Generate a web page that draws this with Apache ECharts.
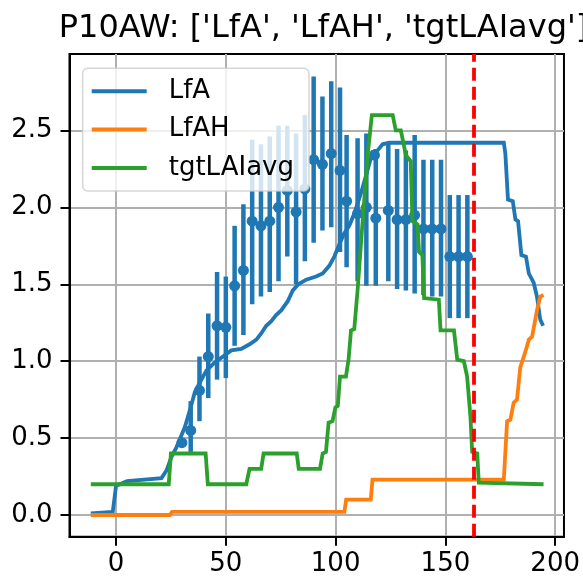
<!DOCTYPE html>
<html>
<head>
<meta charset="utf-8">
<script src="https://cdn.jsdelivr.net/npm/echarts@6/dist/echarts.min.js"></script>
<style>
html,body{margin:0;padding:0;background:#fff;}
#chart{width:583px;height:585px;}
</style>
</head>
<body>
<div id="chart"></div>
<script>
// ---- data ----
const titleText = "P10AW: ['LfA', 'LfAH', 'tgtLAIavg']";
const seriesNames = ['LfA', 'LfAH', 'tgtLAIavg'];
const xTicks = [0, 50, 100, 150, 200];
const yTicks = [0.0, 0.5, 1.0, 1.5, 2.0, 2.5];
const vLineX = 163;

const lfaX = [-11.5, -1.5, 0, 5, 20.7, 23, 25.3, 27.5, 31.3, 33.6, 35.9, 38.1, 41.2, 44.9, 48.7, 52.5, 57, 60.8, 63.9, 66.1, 68.4, 70.7, 72.9, 75.2, 78.2, 80.5, 83, 86.6, 91.1, 94.1, 97.1, 99.4, 101.7, 103.9, 106.2, 108.5, 111.5, 114.5, 116.8, 119.1, 121.4, 124.4, 176.6, 177.3, 178.5, 180.7, 181.9, 183.1, 184.6, 186.7, 188, 190.2, 191.7, 193.2, 194.5];
const lfaY = [0.01, 0.02, 0.19, 0.22, 0.24, 0.29, 0.38, 0.44, 0.57, 0.68, 0.80, 0.86, 0.94, 0.99, 1.03, 1.07, 1.08, 1.11, 1.14, 1.18, 1.23, 1.26, 1.30, 1.33, 1.39, 1.46, 1.50, 1.53, 1.55, 1.57, 1.62, 1.68, 1.76, 1.83, 1.88, 1.96, 2.09, 2.24, 2.36, 2.37, 2.41, 2.42, 2.42, 2.35, 2.05, 2.04, 1.92, 1.91, 1.69, 1.68, 1.57, 1.51, 1.42, 1.27, 1.23];

const lfahX = [-11.5, 24.5, 25.5, 104, 104.8, 116, 116.8, 176.6, 178.1, 179.6, 181.1, 182.6, 184.1, 186.4, 188, 189.5, 191.7, 193.2, 194.7];
const lfahY = [0.0, 0.0, 0.02, 0.02, 0.10, 0.10, 0.23, 0.23, 0.61, 0.62, 0.73, 0.75, 0.96, 1.06, 1.14, 1.16, 1.33, 1.42, 1.43];

const tgtX = [-11.5, 24, 25, 40.8, 41.8, 59.3, 60.8, 66.1, 67.2, 82.3, 83.2, 92.9, 94.1, 95.6, 96.8, 98.6, 99.9, 101, 102, 104.7, 105.9, 107, 108.5, 110, 112.3, 114.6, 116.5, 126, 127.4, 129.7, 132, 134.2, 135, 137.3, 138, 139.5, 140.3, 147, 147.8, 153.9, 155.4, 158.4, 159.9, 161.4, 162.2, 164.5, 165.2, 194.7];
const tgtY = [0.2, 0.2, 0.4, 0.4, 0.2, 0.2, 0.3, 0.3, 0.4, 0.4, 0.3, 0.3, 0.4, 0.41, 0.6, 0.61, 0.7, 0.71, 0.9, 0.9, 1.01, 1.2, 1.21, 1.46, 1.91, 2.34, 2.6, 2.6, 2.5, 2.5, 2.34, 2.3, 1.91, 1.89, 1.71, 1.69, 1.41, 1.40, 1.2, 1.2, 1.01, 1.0, 0.9, 0.64, 0.41, 0.4, 0.21, 0.2];

const obsX = [30, 34, 38, 42, 46, 50, 54, 58, 62, 66, 70, 74, 78, 82, 86, 90, 94, 98, 102, 105, 110, 114, 117.7, 118.3, 124, 128, 132, 136, 140, 144, 148, 152, 156, 160];
const obsY = [0.47, 0.55, 0.81, 1.03, 1.23, 1.22, 1.49, 1.59, 1.91, 1.88, 1.91, 2.00, 2.11, 1.97, 2.12, 2.31, 2.28, 2.35, 2.24, 2.04, 1.96, 2.00, 2.34, 1.93, 1.98, 1.92, 1.92, 1.95, 1.86, 1.86, 1.86, 1.68, 1.68, 1.68];
const obsLow = [0.47, 0.41, 0.61, 0.76, 0.88, 0.89, 1.10, 1.17, 1.37, 1.42, 1.45, 1.52, 1.68, 1.50, 1.65, 1.77, 1.85, 1.87, 1.71, 1.61, 1.52, 1.49, 2.34, 1.49, 1.52, 1.47, 1.46, 1.44, 1.43, 1.42, 1.42, 1.28, 1.28, 1.28];
const obsHigh = [0.47, 0.74, 1.03, 1.31, 1.58, 1.55, 1.88, 2.02, 2.44, 2.41, 2.46, 2.53, 2.53, 2.48, 2.60, 2.85, 2.72, 2.82, 2.78, 2.47, 2.45, 2.48, 2.34, 2.38, 2.42, 2.38, 2.37, 2.47, 2.31, 2.31, 2.31, 2.08, 2.08, 2.08];

const colors = ['#1f77b4', '#ff7f0e', '#2ca02c'];

// ---- build ----
const zip = (xs, ys) => xs.map((x, i) => [x, ys[i]]);
const FONT = 'DejaVu Sans';

const chart = echarts.init(document.getElementById('chart'), null, {renderer: 'canvas'});
const lineSeries = (name, xs, ys, color) => ({
  name, type: 'line', data: zip(xs, ys), showSymbol: false, symbol: 'none',
  lineStyle: {color, width: 3.8, cap: 'butt', join: 'miter'}, itemStyle: {color},
  z: 4, animation: false, silent: true
});

const option = {
  animation: false,
  backgroundColor: '#fff',
  title: {
    text: titleText, left: 318.5, top: 8, textAlign: 'center',
    textStyle: {fontFamily: FONT, fontSize: 32, fontWeight: 'normal', color: '#000'}
  },
  grid: {left: 69.5, right: 17.3, top: 54, bottom: 48.3, show: true, borderColor: '#000', borderWidth: 2, backgroundColor: 'transparent'},
  xAxis: {
    type: 'value', min: -21.2, max: 204.0,
    axisLine: {show: true, onZero: false, lineStyle: {color: '#000', width: 2}},
    axisTick: {show: true, customValues: xTicks, length: 9, lineStyle: {color: '#000', width: 2}},
    axisLabel: {customValues: xTicks, margin: 15, color: '#000', fontFamily: FONT, fontSize: 26},
    splitLine: {show: true, customValues: xTicks, lineStyle: {color: '#b0b0b0', width: 2}}
  },
  yAxis: {
    type: 'value', min: -0.141, max: 2.997,
    axisLine: {show: true, onZero: false, lineStyle: {color: '#000', width: 2}},
    axisTick: {show: true, customValues: yTicks, length: 9, lineStyle: {color: '#000', width: 2}},
    axisLabel: {customValues: yTicks, margin: 17, color: '#000', fontFamily: FONT, fontSize: 26, formatter: v => v.toFixed(1)},
    splitLine: {show: true, customValues: yTicks, lineStyle: {color: '#b0b0b0', width: 2}}
  },
  legend: {
    data: seriesNames, orient: 'vertical', left: 82.7, top: 68.3,
    padding: [10, 15, 10, 9], itemGap: 12.3, itemWidth: 55, itemHeight: 4, icon: 'rect',
    backgroundColor: 'rgba(255,255,255,0.8)', borderColor: 'rgba(204,204,204,0.8)', borderWidth: 1.5, borderRadius: 5,
    textStyle: {fontFamily: FONT, fontSize: 26, color: '#000', lineHeight: 26, padding: [0, 0, 0, 17]},
    z: 10
  },
  series: [
    {
      name: 'obsErr', type: 'custom', data: obsX.map((x, i) => [x, obsLow[i], obsHigh[i]]),
      renderItem: (params, api) => {
        const p1 = api.coord([api.value(0), api.value(1)]);
        const p2 = api.coord([api.value(0), api.value(2)]);
        return {type: 'line', shape: {x1: p1[0], y1: p1[1], x2: p2[0], y2: p2[1]}, style: {stroke: colors[0], lineWidth: 4.5}};
      },
      z: 2, silent: true, animation: false
    },
    {
      name: 'obs', type: 'scatter', data: zip(obsX, obsY), symbol: 'circle', symbolSize: 11,
      itemStyle: {color: colors[0], opacity: 1}, z: 3, silent: true, animation: false
    },
    lineSeries('LfA', lfaX, lfaY, colors[0]),
    lineSeries('LfAH', lfahX, lfahY, colors[1]),
    lineSeries('tgtLAIavg', tgtX, tgtY, colors[2]),
    {
      name: 'vline', type: 'line', data: [], z: 5, silent: true,
      markLine: {
        silent: true, symbol: ['none', 'none'], animation: false, label: {show: false},
        lineStyle: {color: '#ff0000', type: [13, 6], width: 3.8},
        data: [{xAxis: vLineX}]
      }
    }
  ]
};
chart.setOption(option);
</script>
</body>
</html>
